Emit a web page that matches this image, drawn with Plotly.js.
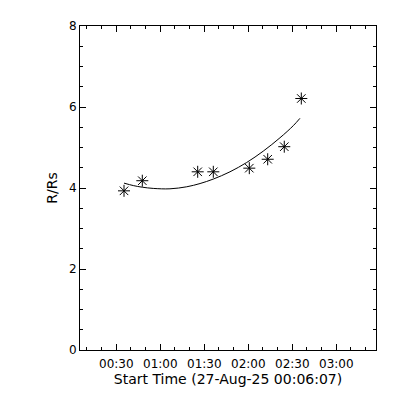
<!DOCTYPE html>
<html>
<head>
<meta charset="utf-8">
<script src="https://cdn.plot.ly/plotly-3.0.1.min.js"></script>
<style>html,body{margin:0;padding:0;background:#fff;}</style>
</head>
<body>
<div id="chart" style="width:400px;height:400px;"></div>
<script>
// Observed points (time, R/Rs)
const pointTimes = ['2025-08-27 00:35:15','2025-08-27 00:47:44','2025-08-27 01:25:30','2025-08-27 01:36:08',
                    '2025-08-27 02:00:41','2025-08-27 02:13:13','2025-08-27 02:24:32','2025-08-27 02:36:08'];
const pointValues = [3.93, 4.18, 4.40, 4.40, 4.49, 4.71, 5.02, 6.21];

// Fitted curve
const fitTimes = ['2025-08-27 00:35:15','2025-08-27 00:41:36','2025-08-27 00:47:42','2025-08-27 00:55:12',
                  '2025-08-27 01:06:36','2025-08-27 01:18:00','2025-08-27 01:27:06','2025-08-27 01:36:06',
                  '2025-08-27 01:47:30','2025-08-27 01:58:54','2025-08-27 02:10:12','2025-08-27 02:21:36',
                  '2025-08-27 02:30:42','2025-08-27 02:35:12'];
const fitValues = [4.12, 4.06, 4.02, 3.99, 3.98, 4.03, 4.11, 4.22, 4.40, 4.63, 4.91, 5.24, 5.54, 5.72];

const xTickVals = ['2025-08-27 00:30','2025-08-27 01:00','2025-08-27 01:30','2025-08-27 02:00','2025-08-27 02:30','2025-08-27 03:00'];
const xTickText = ['00:30','01:00','01:30','02:00','02:30','03:00'];
const xRange = ['2025-08-27 00:05:15','2025-08-27 03:27:04'];
const yTickVals = [0, 2, 4, 6, 8];

const traces = [
  {x: fitTimes, y: fitValues, type: 'scatter', mode: 'lines', line: {color: '#000', width: 1, shape: 'spline', smoothing: 1}, hoverinfo: 'skip'},
  {x: pointTimes, y: pointValues, type: 'scatter', mode: 'markers',
   marker: {symbol: 'asterisk-open', size: 10, color: '#000', line: {color: '#000', width: 1}}}
];

const font = {family: 'DejaVu Sans, sans-serif', size: 12, color: '#000'};
const layout = {
  width: 400, height: 400,
  margin: {l: 80, r: 24, t: 26, b: 50},
  paper_bgcolor: '#fff', plot_bgcolor: '#fff',
  showlegend: false,
  font: font,
  xaxis: {
    type: 'date', range: xRange,
    tickmode: 'array', tickvals: xTickVals, ticktext: xTickText,
    ticks: 'inside', ticklen: 6, tickwidth: 1, tickcolor: '#000',
    ticklabelstandoff: 3,
    showline: true, linecolor: '#000', linewidth: 1, mirror: 'ticks',
    showgrid: false, zeroline: false,
    tickfont: font,
    minor: {dtick: 600000, tick0: '2025-08-27 00:30', ticks: 'inside', ticklen: 3, tickcolor: '#000', showgrid: false},
    title: {text: 'Start Time (27-Aug-25 00:06:07)', font: {family: 'DejaVu Sans, sans-serif', size: 14, color: '#000'}, standoff: 3}
  },
  yaxis: {
    range: [0, 8],
    tickmode: 'array', tickvals: yTickVals,
    ticks: 'inside', ticklen: 6, tickwidth: 1, tickcolor: '#000',
    showline: true, linecolor: '#000', linewidth: 1, mirror: 'ticks',
    showgrid: false, zeroline: false,
    tickfont: font,
    minor: {dtick: 0.5, ticks: 'inside', ticklen: 3, tickcolor: '#000', showgrid: false},
    title: {text: 'R/Rs', font: {family: 'DejaVu Sans, sans-serif', size: 14, color: '#000'}, standoff: 8}
  }
};

Plotly.newPlot('chart', traces, layout, {displayModeBar: false, staticPlot: true});
</script>
</body>
</html>
